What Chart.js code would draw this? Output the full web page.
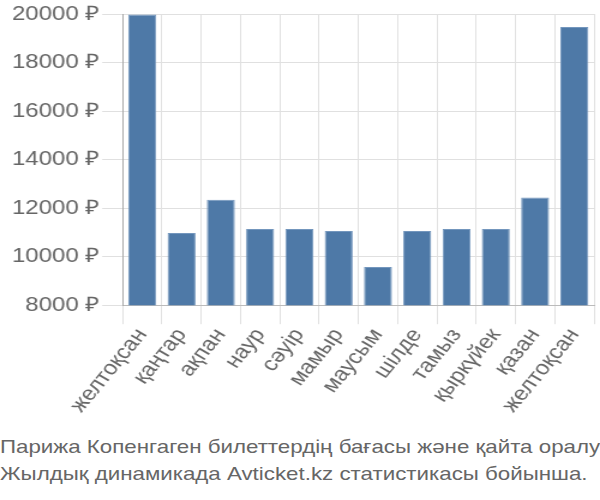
<!DOCTYPE html>
<html><head><meta charset="utf-8">
<script src="https://cdn.jsdelivr.net/npm/chart.js@4/dist/chart.umd.min.js"></script>
<style>
html,body{margin:0;padding:0;background:#fff;overflow:hidden;}
#c{position:absolute;left:0;top:0;width:600px !important;height:417px !important;}
#cap{position:absolute;left:0;top:433px;font-family:"Liberation Sans",Arial,sans-serif;font-size:18.6px;color:#666;line-height:27px;white-space:nowrap;transform:scaleX(1.2);transform-origin:0 0;}
</style></head><body>
<canvas id="c" width="500" height="417"></canvas>
<div id="cap">Парижа Копенгаген билеттердің бағасы және қайта оралу<br>Жылдық динамикада Avticket.kz статистикасы бойынша.</div>
<script>
const categories = ["желтоқсан","қаңтар","ақпан","наур","сәуір","мамыр","маусым","шілде","тамыз","қыркүйек","қазан","желтоқсан"];
const prices = [19980, 10980, 12350, 11140, 11140, 11060, 9570, 11060, 11140, 11140, 12440, 19460];
const yTicks = [8000, 10000, 12000, 14000, 16000, 18000, 20000];
const currency = " ₽";

new Chart(document.getElementById('c'), {
  type: 'bar',
  data: {
    labels: categories,
    datasets: [{
      data: prices,
      backgroundColor: '#4e79a7',
      borderColor: '#7396bd',
      borderWidth: 1,
      categoryPercentage: 0.8,
      barPercentage: 0.89
    }]
  },
  options: {
    responsive: false,
    maintainAspectRatio: false,
    devicePixelRatio: 1,
    animation: false,
    layout: { padding: { top: 5, right: 5, left: 8, bottom: 0 } },
    plugins: { legend: { display: false }, tooltip: { enabled: false } },
    scales: {
      x: {
        grid: { color: '#e0e0e0', tickLength: 19, offset: true },
        border: { color: '#bbb' },
        ticks: {
          font: { family: 'Liberation Sans', size: 20 },
          color: '#666',
          minRotation: 55, maxRotation: 55,
          autoSkip: false,
          padding: 0
        }
      },
      y: {
        min: yTicks[0], max: yTicks[yTicks.length - 1],
        afterBuildTicks: (axis) => { axis.ticks = yTicks.map(v => ({ value: v })); },
        grid: { color: '#e0e0e0', tickLength: 17 },
        border: { color: '#aaa' },
        ticks: {
          font: { family: 'Liberation Sans', size: 20 },
          color: '#666',
          padding: 2,
          callback: (v) => v + currency
        }
      }
    }
  }
});
</script>
</body></html>
